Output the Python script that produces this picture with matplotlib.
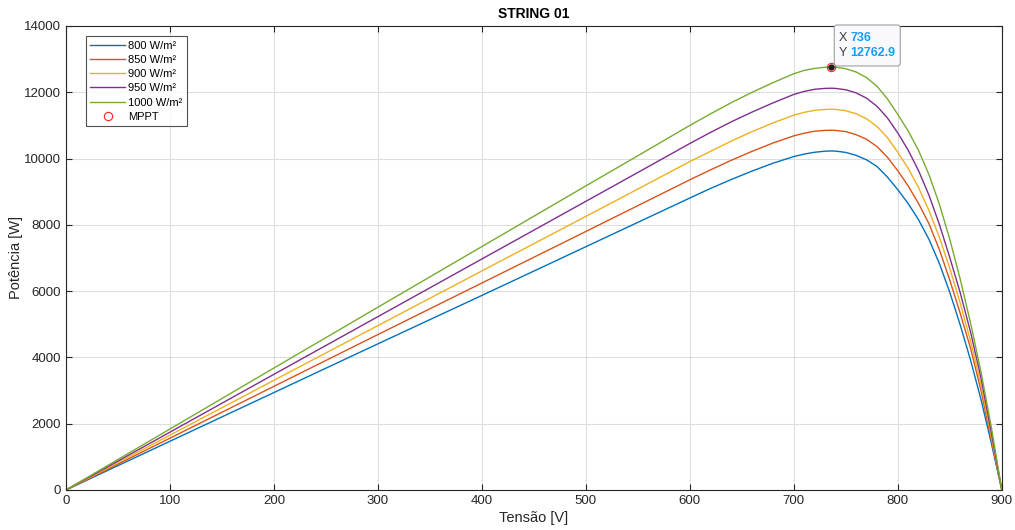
import matplotlib
matplotlib.use("Agg")
import matplotlib.pyplot as plt
from matplotlib.patches import FancyBboxPatch
from matplotlib.transforms import IdentityTransform

plt.rcParams['font.family'] = ['Liberation Sans', 'DejaVu Sans']

# tensão [V]
tensao = [0, 100, 200, 300, 400, 500, 550, 600, 620, 640, 660, 680, 700, 710,
          720, 730, 736, 740, 750, 760, 770, 780, 790, 800, 810, 820, 830, 840,
          850, 860, 870, 880, 890, 900]

p800 = [0, 1470, 2940, 4410, 5870, 7340, 8075, 8810, 9100, 9370, 9625, 9860,
        10060, 10135, 10190, 10222, 10229, 10225, 10185, 10095, 9960, 9760,
        9440, 9060, 8640, 8150, 7560, 6830, 5960, 4980, 3910, 2730, 1400, 0]
p850 = [0, 1564, 3128, 4690, 6245, 7800, 8580, 9360, 9660, 9950, 10220, 10470,
        10685, 10765, 10825, 10850, 10854, 10850, 10812, 10720, 10580, 10360,
        10040, 9630, 9170, 8640, 8030, 7250, 6330, 5330, 4270, 3000, 1500, 0]
p900 = [0, 1655, 3310, 4960, 6610, 8255, 9080, 9910, 10220, 10530, 10815, 11075,
        11310, 11395, 11455, 11482, 11488, 11484, 11443, 11350, 11200, 10965,
        10630, 10190, 9700, 9120, 8430, 7620, 6680, 5640, 4490, 3170, 1600, 0]
p950 = [0, 1745, 3490, 5230, 6970, 8710, 9580, 10455, 10790, 11110, 11405, 11680,
        11935, 12025, 12090, 12117, 12121, 12117, 12075, 11980, 11820, 11575,
        11225, 10770, 10250, 9630, 8890, 8010, 7010, 5950, 4760, 3380, 1720, 0]
p1000 = [0, 1840, 3680, 5515, 7345, 9175, 10085, 11000, 11350, 11690, 12000,
         12290, 12560, 12660, 12720, 12755, 12763, 12758, 12710, 12610, 12440,
         12180, 11800, 11330, 10830, 10240, 9510, 8620, 7560, 6360, 5030, 3560,
         1880, 0]

series = [p800, p850, p900, p950, p1000]
labels = ['800 W/m²', '850 W/m²', '900 W/m²', '950 W/m²', '1000 W/m²']
cores = ['#0072BD', '#D95319', '#EDB120', '#7E2F8E', '#77AC30']

mppt_v = [736]
mppt_p = [12762.9]

fig = plt.figure(figsize=(10.15, 5.3), dpi=100)
ax = fig.add_axes([0.065, 0.0755, 0.922, 0.8755])

for p, lab, c in zip(series, labels, cores):
    ax.plot(tensao, p, color=c, lw=1.0, label=lab)

ax.plot(mppt_v, mppt_p, 'o', mfc='none', mec='#ff2020', ms=6, mew=0.8,
        ls='none', label='MPPT')
ax.plot(mppt_v, mppt_p, 'o', color='#1a1a1a', ms=3.5, zorder=5)

ax.set_xlim(0, 900)
ax.set_ylim(0, 14000)

# datatip box (pixel offsets from the point)
px, py = ax.transData.transform((mppt_v[0], mppt_p[0]))
caixa = FancyBboxPatch((px + 3, py + 1), 66, 41, transform=IdentityTransform(),
                       boxstyle='round,pad=0,rounding_size=3', fc='#f9f9fd',
                       ec='#a0a0a0', lw=0.8, zorder=6, clip_on=False)
ax.add_artist(caixa)
ponto = (mppt_v[0], mppt_p[0])
ax.annotate("X", xy=ponto, xytext=(5.5, 21), textcoords='offset points',
            fontsize=9, color='#404040', va='center', zorder=7)
ax.annotate(f"{mppt_v[0]}", xy=ponto, xytext=(14, 21),
            textcoords='offset points', fontsize=9, color='#1a9cf5',
            fontweight='bold', va='center', zorder=7)
ax.annotate("Y", xy=ponto, xytext=(5.5, 10), textcoords='offset points',
            fontsize=9, color='#404040', va='center', zorder=7)
ax.annotate(f"{mppt_p[0]}", xy=ponto, xytext=(14, 10),
            textcoords='offset points', fontsize=9, color='#1a9cf5',
            fontweight='bold', va='center', zorder=7)

ax.set_xticks(range(0, 901, 100))
ax.set_yticks(range(0, 14001, 2000))
ax.grid(True, color='#dedede', lw=0.8)
ax.set_axisbelow(True)
ax.tick_params(direction='in', top=True, right=True, labelsize=9.5,
               colors='#262626', length=4)
for s in ax.spines.values():
    s.set_color('#262626')
    s.set_linewidth(0.8)

ax.set_title('STRING 01', fontsize=10, fontweight='bold', pad=6)
ax.set_xlabel('Tensão [V]', fontsize=10.5, color='#262626', labelpad=3)
ax.set_ylabel('Potência [W]', fontsize=10.5, color='#262626', labelpad=1)

leg = ax.legend(loc='upper left', bbox_to_anchor=(0.0214, 0.978), fontsize=8,
                fancybox=False, edgecolor='#262626', handlelength=3.1,
                labelspacing=0.38, borderpad=0.4, handletextpad=0.3,
                borderaxespad=0)
leg.get_frame().set_linewidth(0.8)

fig.savefig('out.png', dpi=100)
